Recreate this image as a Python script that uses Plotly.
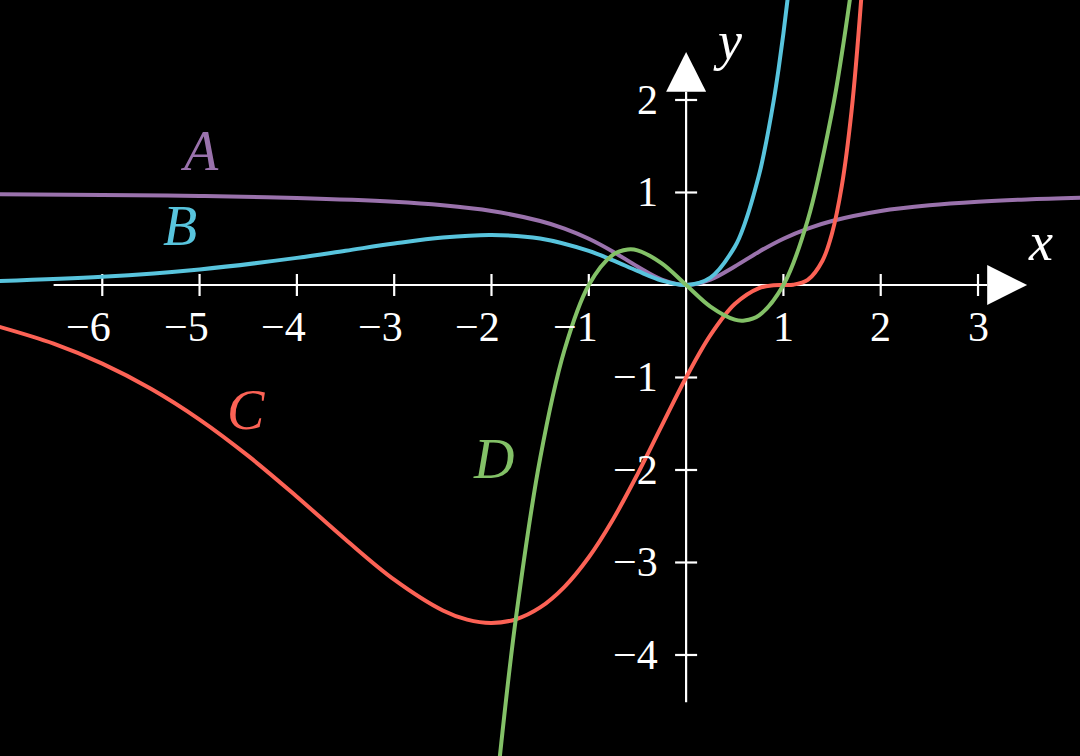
import plotly.graph_objects as go

# ---- data ----
xa = [-7.1, -6, -5, -4, -3, -2.5, -2, -1.5, -1.25, -1, -0.75, -0.5, -0.25, 0,
      0.25, 0.5, 0.75, 1, 1.25, 1.5, 2, 2.5, 3, 3.5, 4.1]
ya = [0.981, 0.973, 0.962, 0.941, 0.9, 0.862, 0.8, 0.692, 0.61, 0.5, 0.36, 0.2, 0.059, 0,
      0.059, 0.2, 0.36, 0.5, 0.61, 0.692, 0.8, 0.862, 0.9, 0.925, 0.944]

xb = [-7.1, -6, -5, -4, -3.5, -3, -2.5, -2, -1.5, -1, -0.75, -0.5, -0.25, 0,
      0.25, 0.5, 0.6, 0.75, 0.8, 0.9, 0.95, 1.0, 1.05, 1.1]
yb = [0.042, 0.089, 0.168, 0.293, 0.37, 0.448, 0.513, 0.541, 0.502, 0.368, 0.266, 0.152, 0.049, 0,
      0.08, 0.412, 0.656, 1.191, 1.424, 1.992, 2.334, 2.718, 3.151, 3.635]

xc = [-7.1, -6.5, -6, -5.5, -5, -4.5, -4, -3.5, -3, -2.5, -2.25, -2, -1.75, -1.5, -1.25, -1,
      -0.75, -0.5, -0.25, 0, 0.25, 0.5, 0.75, 0.9, 1, 1.1, 1.25, 1.4, 1.5, 1.6, 1.7, 1.8, 1.85]
yc = [-0.439, -0.634, -0.85, -1.122, -1.455, -1.848, -2.289, -2.752, -3.186, -3.519, -3.618,
      -3.654, -3.614, -3.486, -3.263, -2.943, -2.532, -2.047, -1.521, -1.0, -0.542, -0.206,
      -0.033, -0.003, 0, 0.003, 0.055, 0.26, 0.56, 1.07, 1.878, 3.097, 3.905]

xd = [-2, -1.9, -1.75, -1.5, -1.25, -1, -0.75, -0.6, -0.5, -0.25, 0, 0.25, 0.5, 0.6, 0.75,
      1, 1.25, 1.5, 1.6, 1.7, 1.75]
yd = [-6, -4.959, -3.609, -1.875, -0.703, 0, 0.328, 0.384, 0.375, 0.234, 0, -0.234, -0.375,
      -0.384, -0.328, 0, 0.703, 1.875, 2.496, 3.213, 3.609]

x_ticks = [-6, -5, -4, -3, -2, -1, 1, 2, 3]
y_ticks = [-4, -3, -2, -1, 1, 2]

labels = ["A", "B", "C", "D"]
label_pos = [(-5.0, 1.45), (-5.2, 0.64), (-4.52, -1.35), (-1.98, -1.88)]

# ---- styling ----
colors = ["#9A72AC", "#58C4DD", "#FC6255", "#83C167"]
X_RANGE = [-7.051, 4.048]
Y_RANGE = [-5.092, 3.081]
X_AX = (-6.5, 3.094, 3.505)   # start, arrow base, arrow tip
Y_AX = (-4.51, 2.09, 2.52)
FONT = "Liberation Serif"

fig = go.Figure()
for xs, ys, c in zip([xa, xb, xc, xd], [ya, yb, yc, yd], colors):
    fig.add_trace(go.Scatter(x=xs, y=ys, mode="lines",
                             line=dict(color=c, width=4, shape="spline"),
                             hoverinfo="skip", showlegend=False))

shapes = []
W = "white"
shapes.append(dict(type="line", x0=X_AX[0], x1=X_AX[1], y0=0, y1=0,
                   line=dict(color=W, width=2.2), layer="below"))
shapes.append(dict(type="line", x0=0, x1=0, y0=Y_AX[0], y1=Y_AX[1],
                   line=dict(color=W, width=2.2), layer="below"))
hy = 20 / 92.5
hx = 20 / 97.3
shapes.append(dict(type="path",
                   path=f"M {X_AX[1]} {-hy} L {X_AX[2]} 0 L {X_AX[1]} {hy} Z",
                   fillcolor=W, line=dict(color=W, width=0), layer="below"))
shapes.append(dict(type="path",
                   path=f"M {-hx} {Y_AX[1]} L 0 {Y_AX[2]} L {hx} {Y_AX[1]} Z",
                   fillcolor=W, line=dict(color=W, width=0), layer="below"))
tx = 11 / 92.5
ty = 11 / 97.3
for t in x_ticks:
    shapes.append(dict(type="line", x0=t, x1=t, y0=-tx, y1=tx,
                       line=dict(color=W, width=2.2), layer="below"))
for t in y_ticks:
    shapes.append(dict(type="line", x0=-ty, x1=ty, y0=t, y1=t,
                       line=dict(color=W, width=2.2), layer="below"))

ann = []
def fmt(v):
    return ("\u2212" + str(abs(v))) if v < 0 else str(v)

TS = 42
for t in x_ticks:
    if t < 0:
        ann.append(dict(x=t, y=0, text=fmt(t), showarrow=False, xanchor="right",
                        yanchor="middle", xshift=11, yshift=-42,
                        font=dict(family=FONT, size=TS, color=W)))
    else:
        ann.append(dict(x=t, y=0, text=fmt(t), showarrow=False, xanchor="center",
                        yanchor="middle", yshift=-42,
                        font=dict(family=FONT, size=TS, color=W)))
for t in y_ticks:
    ann.append(dict(x=0, y=t, text=fmt(t), showarrow=False, xanchor="right",
                    yanchor="middle", xshift=-26,
                    font=dict(family=FONT, size=TS, color=W)))

ann.append(dict(x=3.64, y=0.46, text="<i>x</i>", showarrow=False,
                font=dict(family=FONT, size=54, color=W)))
ann.append(dict(x=0.43, y=2.64, text="<i>y</i>", showarrow=False,
                font=dict(family=FONT, size=54, color=W)))
for lab, (lx, ly), c in zip(labels, label_pos, colors):
    ann.append(dict(x=lx, y=ly, text=f"<i>{lab}</i>", showarrow=False,
                    font=dict(family=FONT, size=56, color=c)))

fig.update_layout(
    width=1080, height=756,
    margin=dict(l=0, r=0, t=0, b=0),
    paper_bgcolor="black", plot_bgcolor="black",
    xaxis=dict(range=X_RANGE, visible=False, fixedrange=True),
    yaxis=dict(range=Y_RANGE, visible=False, fixedrange=True),
    shapes=shapes, annotations=ann, showlegend=False,
)
fig.write_html("out.html", config={"displayModeBar": False},
               post_script="document.body.style.margin='0';"
                           "document.body.style.background='black';")
